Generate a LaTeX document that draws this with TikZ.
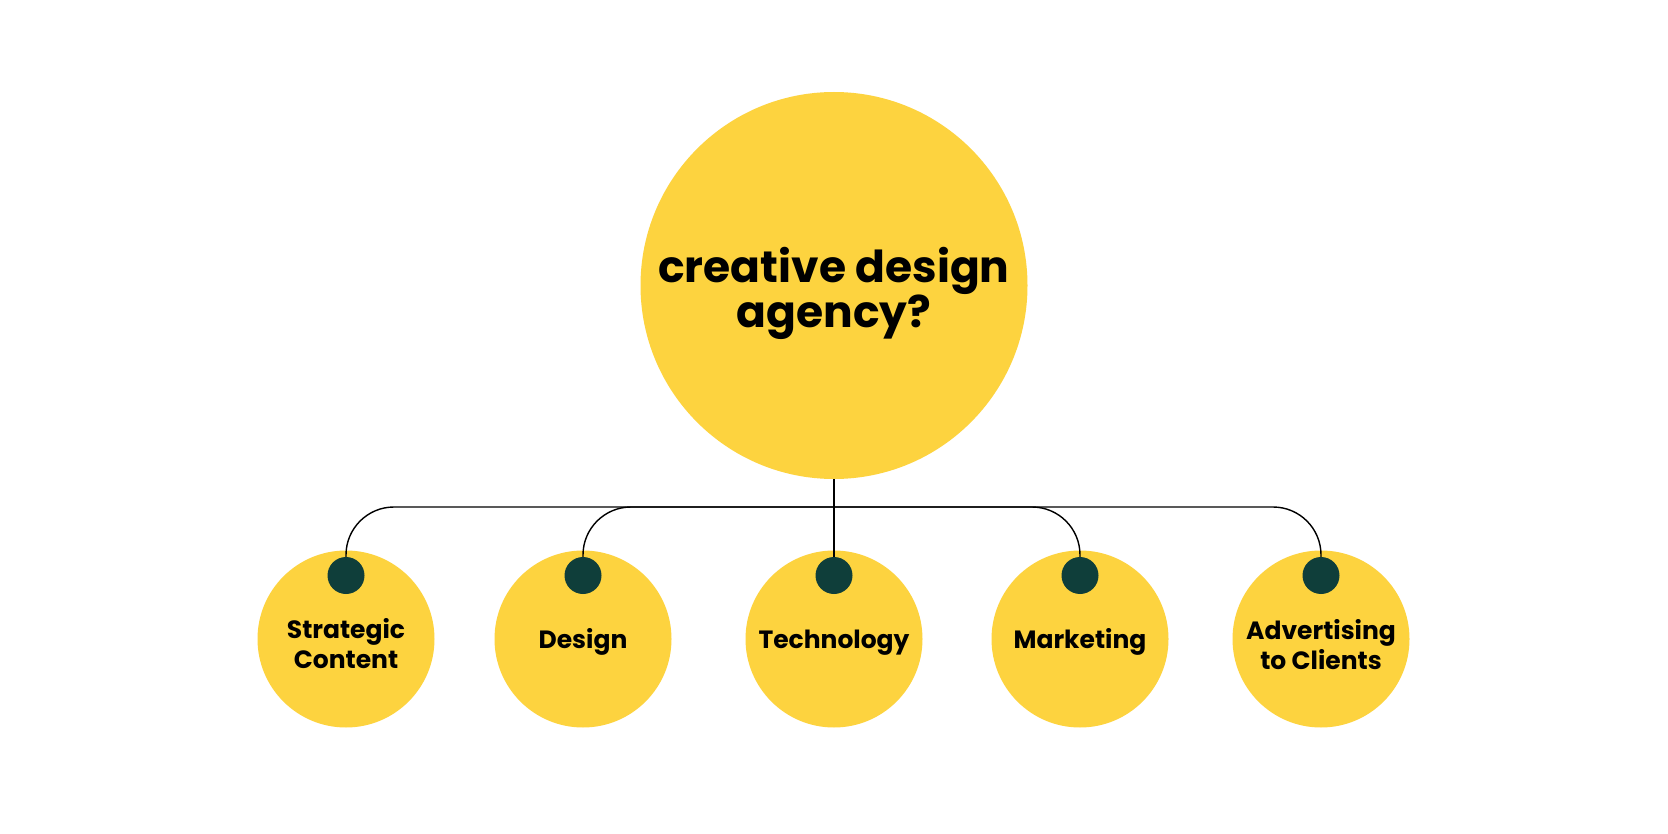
\documentclass[tikz,border=0pt]{standalone}
\usepackage{fontspec}
\setmainfont{Poppins}
\definecolor{sun}{HTML}{FDD33F}
\definecolor{pine}{HTML}{0F3E3A}
\begin{document}
\begin{tikzpicture}[x=1pt,y=-1pt,
  bubble/.style={circle,fill=sun,inner sep=0pt,minimum size=#1},
  knob/.style={circle,fill=pine,inner sep=0pt,minimum size=37pt},
  link/.style={draw=black,line width=1.4pt,rounded corners=48pt},
  lbl/.style={font=\fontsize{25}{30.5}\selectfont\bfseries,align=center,inner sep=0pt},
  bigtxt/.style={font=\fontsize{44}{44}\selectfont\bfseries,align=center,inner sep=0pt}]
\useasboundingbox[fill=white] (0,0) rectangle (1668,834);
\node[bubble=387pt] (top) at (834,285.5) {};
\node[bigtxt] (q) at (834,293.5) {creative design\\agency?};
\foreach \n/\x in {s/346,d/583,t/834,m/1080,a/1321} {
  \node[bubble=177pt] (\n) at (\x,639) {};
}
\foreach \n/\x in {s/346,d/583,t/834,m/1080,a/1321} {
  \node[knob] (\n k) at (\x,575.5) {};
}
\coordinate (hub) at (834,507);
\draw[link] (sk.north) |- (hub);
\draw[link] (dk.north) |- (hub);
\draw[link] (mk.north) |- (hub);
\draw[link] (ak.north) |- (hub);
\draw[link] (top.south) -- (tk.north);
\node[lbl] (sl) at (346,643.5) {Strategic\\Content};
\node[lbl,anchor=base] (dl) at (583,648) {Design};
\node[lbl,anchor=base] (tl) at (834,648) {Technology};
\node[lbl,anchor=base] (ml) at (1080,648) {Marketing};
\node[lbl] (al) at (1321,644.8) {Advertising\\to Clients};
\end{tikzpicture}
\end{document}
